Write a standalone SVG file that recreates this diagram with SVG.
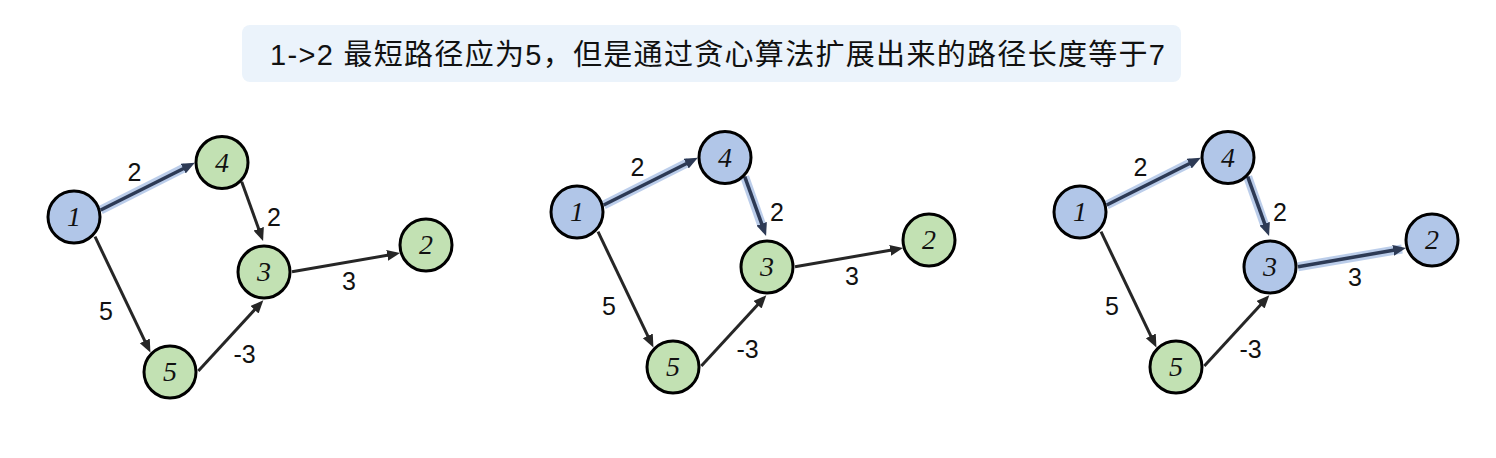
<svg xmlns="http://www.w3.org/2000/svg" width="1496" height="458" viewBox="0 0 1496 458">
<style>
.node circle{stroke:#000;stroke-width:3}
.blue circle{fill:#B1C6E8}
.green circle{fill:#C2E1B3}
.nl{font-family:"Liberation Serif","DejaVu Serif",serif;font-style:italic;font-size:28px;text-anchor:middle;fill:#111}
.el{font-family:"Liberation Sans",Arial,sans-serif;font-size:25px;text-anchor:middle;fill:#111}
.e{fill:none;stroke:#262626;stroke-width:3;marker-end:url(#ah)}
.h{fill:none;stroke:#2D3A55;stroke-width:3.5;marker-end:url(#ahh)}
.band{fill:none;stroke:#B4C8E8;stroke-width:9;opacity:0.9}
</style>
<defs>
<marker id="ah" markerUnits="userSpaceOnUse" markerWidth="15" markerHeight="12" refX="6" refY="5.5" orient="auto">
<path d="M0,0 L13,5.5 L0,11 z" fill="#262626"/>
</marker>
<marker id="ahh" markerUnits="userSpaceOnUse" markerWidth="15" markerHeight="12" refX="6" refY="5.5" orient="auto">
<path d="M0,0 L13,5.5 L0,11 z" fill="#2D3A55"/>
</marker>
</defs>
<g id="title">
<rect x="242" y="25" width="939" height="57" rx="8" fill="#EBF3FB"/>
<text x="270" y="65" font-family="'Liberation Sans','Noto Sans CJK SC',sans-serif" font-size="29" fill="#111" textLength="895" lengthAdjust="spacing">1-&gt;2 最短路径应为5，但是通过贪心算法扩展出来的路径长度等于7</text>
</g>

<!-- Panel 1 -->
<g id="panel1">
<g id="p1-connectors">
<path class="band" d="M100.7,210 L186,167"/>
<path class="h" d="M100.7,210 L188.6,166"/>
<path class="e" d="M241.7,181.7 L260.7,234.4"/>
<path class="e" d="M95,236.7 L147.4,346.3"/>
<path class="e" d="M198.3,371 L258.6,305.4"/>
<path class="e" d="M292,271.7 L393.1,254.3"/>
<text class="el" x="134.5" y="181">2</text>
<text class="el" x="274" y="226">2</text>
<text class="el" x="106" y="320">5</text>
<text class="el" x="244.5" y="363">-3</text>
<text class="el" x="349" y="290">3</text>
</g>
<g id="p1-n1" class="node blue"><circle cx="74" cy="217" r="26"/><text class="nl" x="74" y="226">1</text></g>
<g id="p1-n4" class="node green"><circle cx="222" cy="162.5" r="26"/><text class="nl" x="222" y="171.5">4</text></g>
<g id="p1-n3" class="node green"><circle cx="264" cy="272" r="26"/><text class="nl" x="264" y="281">3</text></g>
<g id="p1-n2" class="node green"><circle cx="426" cy="245" r="26"/><text class="nl" x="426" y="254">2</text></g>
<g id="p1-n5" class="node green"><circle cx="170" cy="372" r="26"/><text class="nl" x="170" y="381">5</text></g>
</g>

<!-- Panel 2 -->
<g id="panel2" transform="translate(503,-5)">
<g id="p2-connectors">
<path class="band" d="M100.7,210 L186,167"/>
<path class="band" d="M241.7,181.7 L259,231"/>
<path class="h" d="M100.7,210 L188.6,166"/>
<path class="h" d="M241.7,181.7 L260.7,234.4"/>
<path class="e" d="M95,236.7 L147.4,346.3"/>
<path class="e" d="M198.3,371 L258.6,305.4"/>
<path class="e" d="M292,271.7 L393.1,254.3"/>
<text class="el" x="134.5" y="181">2</text>
<text class="el" x="274" y="226">2</text>
<text class="el" x="106" y="320">5</text>
<text class="el" x="244.5" y="363">-3</text>
<text class="el" x="349" y="290">3</text>
</g>
<g id="p2-n1" class="node blue"><circle cx="74" cy="217" r="26"/><text class="nl" x="74" y="226">1</text></g>
<g id="p2-n4" class="node blue"><circle cx="222" cy="162.5" r="26"/><text class="nl" x="222" y="171.5">4</text></g>
<g id="p2-n3" class="node green"><circle cx="264" cy="272" r="26"/><text class="nl" x="264" y="281">3</text></g>
<g id="p2-n2" class="node green"><circle cx="426" cy="245" r="26"/><text class="nl" x="426" y="254">2</text></g>
<g id="p2-n5" class="node green"><circle cx="170" cy="372" r="26"/><text class="nl" x="170" y="381">5</text></g>
</g>

<!-- Panel 3 -->
<g id="panel3" transform="translate(1006,-5)">
<g id="p3-connectors">
<path class="band" d="M100.7,210 L186,167"/>
<path class="band" d="M241.7,181.7 L259,231"/>
<path class="band" d="M292,271.7 L396,254"/>
<path class="h" d="M100.7,210 L188.6,166"/>
<path class="h" d="M241.7,181.7 L260.7,234.4"/>
<path class="h" d="M292,271.7 L393.1,254.3"/>
<path class="e" d="M95,236.7 L147.4,346.3"/>
<path class="e" d="M198.3,371 L258.6,305.4"/>
<text class="el" x="134.5" y="181">2</text>
<text class="el" x="274" y="226">2</text>
<text class="el" x="106" y="320">5</text>
<text class="el" x="244.5" y="363">-3</text>
<text class="el" x="349" y="291">3</text>
</g>
<g id="p3-n1" class="node blue"><circle cx="74" cy="217" r="26"/><text class="nl" x="74" y="226">1</text></g>
<g id="p3-n4" class="node blue"><circle cx="222" cy="162.5" r="26"/><text class="nl" x="222" y="171.5">4</text></g>
<g id="p3-n3" class="node blue"><circle cx="264" cy="272" r="26"/><text class="nl" x="264" y="281">3</text></g>
<g id="p3-n2" class="node blue"><circle cx="426" cy="245" r="26"/><text class="nl" x="426" y="254">2</text></g>
<g id="p3-n5" class="node green"><circle cx="170" cy="372" r="26"/><text class="nl" x="170" y="381">5</text></g>
</g>
</svg>
